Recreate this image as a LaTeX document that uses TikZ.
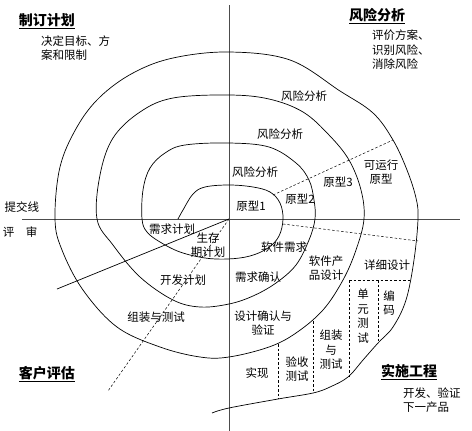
\documentclass[tikz,border=0pt]{standalone}
\usepackage{fontspec}
\setmainfont{Noto Sans CJK SC}
\usetikzlibrary{positioning}
\tikzset{
    texto/.style={
        inner sep=0pt,
        align=center,
        font=\fontsize{11.5}{14.5}\selectfont
    },
    titulo/.style={
        inner sep=0pt,
        font=\fontsize{14}{16}\selectfont\bfseries
    },
    eje/.style={
        line width=0.9pt,
        draw=black!70
    },
    espiral/.style={
        line width=0.7pt
    },
    division/.style={
        line width=0.5pt,
        dash pattern=on 2.5pt off 2pt
    }
}

\begin{document}
\begin{tikzpicture}[
    x=1pt,
    y=-1pt
]
    \useasboundingbox (0,0) rectangle (472,431);

    % Ejes
    \coordinate (o)      at (229,219);
    \coordinate (ejeIzq) at (22,219);
    \coordinate (ejeDer) at (460,219);
    \coordinate (ejeSup) at (229,5);
    \coordinate (ejeInf) at (229,431);
    \path[eje]
        (ejeIzq) edge (ejeDer)
        (ejeSup) edge (ejeInf);

    % Espiral
    \draw[espiral] plot[smooth, tension=0.6] coordinates {
        (178,219) (183,210) (193,194) (205,187) (229,185) (253,187)
        (270,192) (280,203) (283,219) (279,236) (268,248) (250,256)
        (228,259) (205,258) (180,252) (160,242) (147,232) (142,219)
        (143,190) (150,168) (165,153) (185,145) (229,143) (269,147)
        (296,163) (309,180) (314,200) (315,219) (309,240) (296,265)
        (276,283) (253,296) (229,304) (200,307) (173,300) (140,277)
        (113,245) (97,219) (100,175) (113,138) (140,112) (173,98)
        (229,95) (269,99) (303,112) (329,135) (349,160) (361,190)
        (364,219) (356,250) (343,280) (323,310) (296,333) (269,347)
        (229,357) (200,357) (160,347) (117,327) (83,290) (62,250)
        (55,219) (60,167) (77,127) (100,97) (133,73) (173,58)
        (229,52) (290,60) (340,91) (373,113) (393,140) (407,170)
        (416,198) (418,219) (414,260) (406,300) (393,327) (378,343)
        (363,360) (348,377) (330,387) (313,393) (278,399) (229,408)
        (212,413)
    };

    % Lineas desde el centro
    \coordinate (revision) at (57,289);
    \coordinate (corte)    at (108,391);
    \path[espiral] (o) edge (revision);
    \path[division] (o) edge (corte);

    % Divisiones de los prototipos
    \coordinate (protoIni) at (273,195);
    \coordinate (protoFin) at (393,140);
    \coordinate (diseIni)  at (283,224);
    \coordinate (diseFin)  at (418,241);
    \coordinate (detIzq)   at (349,280);
    \coordinate (detDer)   at (410,280);
    \coordinate (codArr)   at (378,280);
    \coordinate (codAba)   at (378,343);
    \coordinate (uniAba)   at (349,377);
    \coordinate (ensArr)   at (313,321);
    \coordinate (ensAba)   at (313,393);
    \coordinate (aceArr)   at (278,344);
    \coordinate (aceAba)   at (278,399);
    \path[division]
        (protoIni) edge (protoFin)
        (diseIni)  edge (diseFin)
        (detIzq)   edge (detDer)
        (detIzq)   edge (uniAba)
        (codArr)   edge (codAba)
        (ensArr)   edge (ensAba)
        (aceArr)   edge (aceAba);

    % Cuadrantes
    \node[titulo] (plan)    at (47,21)   {\underline{制订计划}};
    \node[titulo] (riesgo)  at (377,16)  {\underline{风险分析}};
    \node[titulo] (cliente) at (47,374)  {\underline{客户评估}};
    \node[titulo] (obra)    at (409,372) {\underline{实施工程}};
    \node[texto, align=left, anchor=west] (planTxt)    at (41,48)  {决定目标、方\\案和限制};
    \node[texto, align=left, anchor=west] (riesgoTxt)  at (372,50) {评价方案、\\识别风险、\\消除风险};
    \node[texto, align=left, anchor=west] (obraTxt)    at (403,400) {开发、验证\\下一产品};

    % Ejes: rotulos
    \node[texto] (entrega) at (22,207) {提交线};
    \node[texto] (revTxt)  at (20,232) {评\quad 审};

    % Analisis de riesgo y prototipos
    \node[texto] (ra3) at (304,96)  {风险分析};
    \node[texto] (ra2) at (280,134) {风险分析};
    \node[texto] (ra1) at (255,172) {风险分析};
    \node[texto] (p1)  at (251,206) {原型1};
    \node[texto] (p2)  at (300,199) {原型2};
    \node[texto] (p3)  at (338,182) {原型3};
    \node[texto] (p4)  at (381,172) {可运行\\原型};

    % Planificacion
    \node[texto] (reqPlan) at (172,229) {需求计划};
    \node[texto] (vida)    at (208,245) {生存\\期计划};
    \node[texto] (desPlan) at (183,280) {开发计划};
    \node[texto] (ensPlan) at (156,317) {组装与测试};

    % Ingenieria
    \node[texto] (swReq)  at (284,247) {软件需求};
    \node[texto] (reqVal) at (258,277) {需求确认};
    \node[texto] (swDis)  at (326,268) {软件产\\品设计};
    \node[texto] (detDis) at (387,265) {详细设计};
    \node[texto] (disVal) at (263,323) {设计确认与\\验证};
    \node[texto] (impl)   at (257,373) {实现};
    \node[texto] (acep)   at (297,369) {验收\\测试};
    \node[texto] (ensam)  at (331,350) {组装\\与\\测试};
    \node[texto] (unidad) at (363,316) {单\\元\\测\\试};
    \node[texto] (codigo) at (389,303) {编\\码};

\end{tikzpicture}
\end{document}
